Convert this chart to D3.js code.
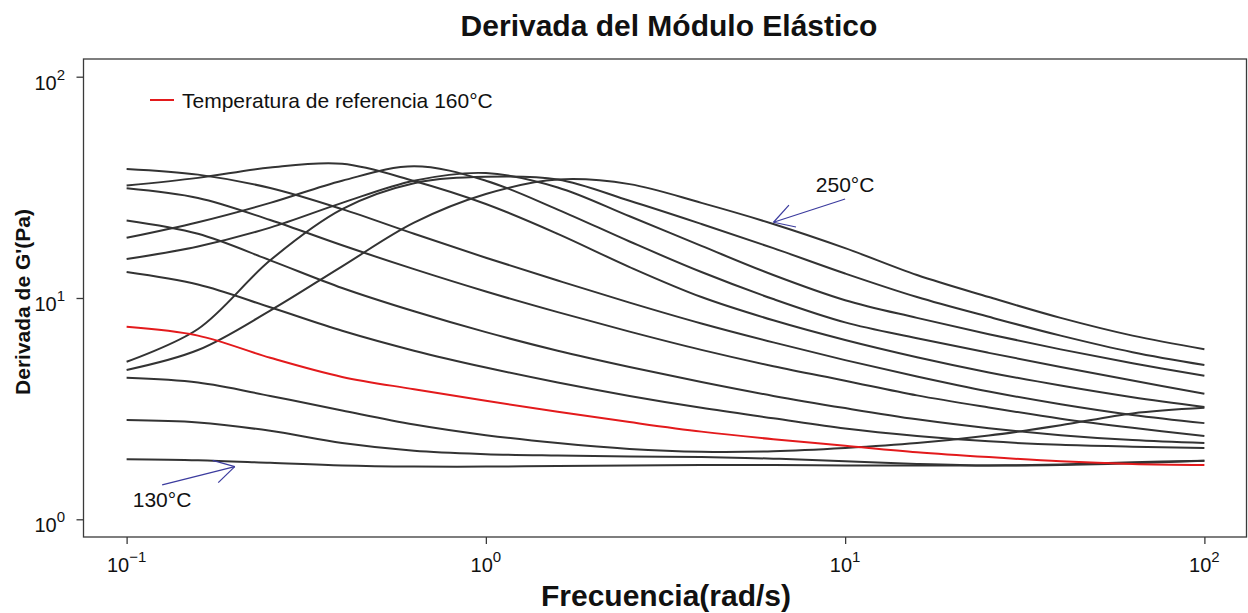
<!DOCTYPE html>
<html>
<head>
<meta charset="utf-8">
<script src="https://cdn.jsdelivr.net/npm/d3@7"></script>
<style>
  html, body { margin: 0; padding: 0; background: #ffffff; }
  svg { display: block; font-family: "Liberation Sans", Arial, sans-serif; }
</style>
</head>
<body>
<svg id="chart" width="1248" height="613"></svg>
<script>
// Frequency grid (rad/s), five points per decade, shared by every curve
const frequencies = [0.1, 0.158, 0.251, 0.398, 0.631, 1, 1.585, 2.512, 3.981, 6.31, 10, 15.85, 25.12, 39.81, 63.1, 100];

// Derivative of G' (Pa) for each test temperature
const temperatures = [130, 140, 150, 160, 170, 180, 190, 200, 210, 220, 230, 240, 250];
const d130 = [1.87, 1.85, 1.80, 1.75, 1.73, 1.73, 1.74, 1.75, 1.76, 1.76, 1.75, 1.75, 1.75, 1.77, 1.81, 1.84];
const d140 = [2.81, 2.74, 2.51, 2.21, 2.04, 1.97, 1.94, 1.92, 1.91, 1.88, 1.83, 1.78, 1.75, 1.76, 1.79, 1.84];
const d150 = [4.36, 4.15, 3.61, 3.10, 2.68, 2.40, 2.21, 2.08, 2.02, 2.03, 2.10, 2.21, 2.39, 2.66, 3.01, 3.19];
const d160 = [7.41, 6.76, 5.37, 4.40, 3.87, 3.43, 3.06, 2.75, 2.49, 2.30, 2.15, 2.01, 1.91, 1.83, 1.78, 1.76];
const d170 = [13.1, 11.5, 9.08, 7.11, 5.78, 4.85, 4.15, 3.61, 3.19, 2.86, 2.57, 2.38, 2.25, 2.17, 2.13, 2.10];
const d180 = [22.4, 19.5, 14.8, 11.1, 8.71, 7.01, 5.78, 4.88, 4.17, 3.61, 3.18, 2.83, 2.58, 2.40, 2.28, 2.21];
const d190 = [31.3, 28.3, 22.5, 17.3, 13.5, 10.7, 8.63, 7.05, 5.83, 4.92, 4.23, 3.63, 3.20, 2.85, 2.59, 2.38];
const d200 = [38.3, 36.1, 31.4, 25.2, 19.5, 15.2, 12.0, 9.53, 7.67, 6.30, 5.24, 4.42, 3.78, 3.31, 2.96, 2.72];
const d210 = [32.2, 34.9, 38.9, 40.4, 33.8, 26.6, 19.5, 13.8, 10.1, 7.93, 6.46, 5.40, 4.61, 4.02, 3.56, 3.22];
const d220 = [18.7, 22.0, 26.9, 33.9, 39.4, 33.9, 25.1, 18.0, 13.1, 9.89, 7.76, 6.58, 5.65, 4.88, 4.24, 3.69];
const d230 = [15.0, 17.1, 20.8, 26.9, 33.9, 36.7, 31.6, 23.4, 17.2, 12.7, 9.77, 8.13, 6.86, 5.86, 5.07, 4.45];
const d240 = [5.15, 7.24, 14.8, 25.2, 33.0, 35.3, 34.3, 27.5, 21.6, 16.8, 12.9, 10.1, 8.22, 6.76, 5.69, 4.98];
const d250 = [4.73, 5.82, 8.77, 13.9, 21.9, 29.5, 34.3, 32.7, 26.9, 21.6, 16.8, 12.7, 10.1, 8.13, 6.76, 5.87];
const seriesValues = [d130, d140, d150, d160, d170, d180, d190, d200, d210, d220, d230, d240, d250];

const referenceTemperature = 160;
const xTickValues = [0.1, 1, 10, 100];
const xTickExponents = ["\u22121", "0", "1", "2"];
const yTickValues = [1, 10, 100];
const yTickExponents = ["0", "1", "2"];

// annotation anchors in data units (frequency, value)
const highNote = { text: "250°C", tail: [10.0, 28.0], tip: [6.32, 22.0], label: [10.0, 32.5] };
const lowNote = { text: "130°C", tail: [0.1256, 1.43], tip: [0.2, 1.73], label: [0.1255, 1.23] };

const titleText = "Derivada del Módulo Elástico";
const xLabelText = "Frecuencia(rad/s)";
const yLabelText = "Derivada de G'(Pa)";
const legendText = "Temperatura de referencia 160°C";

// ---- layout ----
const plot = { left: 83.5, right: 1247.5, top: 59, bottom: 537 };
const svg = d3.select("#chart");

const x = d3.scaleLog()
  .domain([Math.pow(10, -1.12), Math.pow(10, 2.12)])
  .range([plot.left, plot.right]);
const y = d3.scaleLog()
  .domain([Math.pow(10, -0.08), Math.pow(10, 2.08)])
  .range([plot.bottom, plot.top]);

// ---- curves ----
const line = d3.line()
  .x(d => x(d[0]))
  .y(d => y(d[1]))
  .curve(d3.curveCatmullRom.alpha(0.5));

const curves = temperatures.map((t, i) => ({
  t,
  pts: frequencies.map((f, j) => [f, seriesValues[i][j]])
}));

const curveLayer = svg.append("g");
curveLayer.selectAll("path.curve")
  .data(curves.filter(c => c.t !== referenceTemperature))
  .join("path")
  .attr("class", "curve")
  .attr("d", c => line(c.pts))
  .attr("fill", "none")
  .attr("stroke", "#333333")
  .attr("stroke-width", 2);

curveLayer.selectAll("path.ref")
  .data(curves.filter(c => c.t === referenceTemperature))
  .join("path")
  .attr("class", "ref")
  .attr("d", c => line(c.pts))
  .attr("fill", "none")
  .attr("stroke", "#e31a1c")
  .attr("stroke-width", 2);

// ---- frame and axes ----
svg.append("rect")
  .attr("x", plot.left).attr("y", plot.top)
  .attr("width", plot.right - plot.left - 1).attr("height", plot.bottom - plot.top)
  .attr("fill", "none").attr("stroke", "#3a3a3a").attr("stroke-width", 1.3);

const xAxis = d3.axisBottom(x).tickValues(xTickValues).tickSize(7).tickFormat(() => "");
const gx = svg.append("g").attr("transform", `translate(0,${plot.bottom})`).call(xAxis);
gx.select(".domain").remove();
gx.selectAll(".tick line").attr("stroke", "#3a3a3a").attr("stroke-width", 1.3);

const yAxis = d3.axisLeft(y).tickValues(yTickValues).tickSize(7).tickFormat(() => "");
const gy = svg.append("g").attr("transform", `translate(${plot.left},0)`).call(yAxis);
gy.select(".domain").remove();
gy.selectAll(".tick line").attr("stroke", "#3a3a3a").attr("stroke-width", 1.3);

// power-of-ten tick labels
xTickValues.forEach((v, i) => {
  const t = svg.append("text")
    .attr("x", x(v)).attr("y", 572)
    .attr("text-anchor", "middle")
    .attr("font-size", 20).attr("fill", "#111");
  t.append("tspan").text("10");
  t.append("tspan").attr("dy", -10).attr("font-size", 15).text(xTickExponents[i]);
});
yTickValues.forEach((v, i) => {
  const t = svg.append("text")
    .attr("x", 65).attr("y", y(v) + 13)
    .attr("text-anchor", "end")
    .attr("font-size", 20).attr("fill", "#111");
  t.append("tspan").text("10");
  t.append("tspan").attr("dy", -10).attr("font-size", 15).text(yTickExponents[i]);
});

// ---- titles ----
svg.append("text")
  .attr("x", 669).attr("y", 36)
  .attr("text-anchor", "middle")
  .attr("font-size", 30).attr("font-weight", "bold").attr("fill", "#111")
  .text(titleText);

svg.append("text")
  .attr("x", 666).attr("y", 606)
  .attr("text-anchor", "middle")
  .attr("font-size", 30).attr("font-weight", "bold").attr("fill", "#111")
  .text(xLabelText);

svg.append("text")
  .attr("transform", "translate(30,302) rotate(-90)")
  .attr("text-anchor", "middle")
  .attr("font-size", 21).attr("font-weight", "bold").attr("fill", "#111")
  .text(yLabelText);

// ---- legend ----
svg.append("line")
  .attr("x1", 150).attr("x2", 174).attr("y1", 100).attr("y2", 100)
  .attr("stroke", "#e31a1c").attr("stroke-width", 2);
svg.append("text")
  .attr("x", 182).attr("y", 107.5)
  .attr("font-size", 21).attr("fill", "#111")
  .text(legendText);

// ---- temperature annotations with arrows ----
const arrowColor = "#3b3b9e";
function arrow(tail, tip) {
  const x0 = x(tail[0]), y0 = y(tail[1]), x1 = x(tip[0]), y1 = y(tip[1]);
  const ang = Math.atan2(y1 - y0, x1 - x0);
  const len = 23, spread = Math.PI / 6;
  const g = svg.append("g").attr("stroke", arrowColor).attr("stroke-width", 1.2).attr("fill", "none");
  g.append("line").attr("x1", x0).attr("y1", y0).attr("x2", x1).attr("y2", y1);
  [-spread, spread].forEach(s => {
    g.append("line")
      .attr("x1", x1).attr("y1", y1)
      .attr("x2", x1 - len * Math.cos(ang + s))
      .attr("y2", y1 - len * Math.sin(ang + s));
  });
}
[highNote, lowNote].forEach(n => {
  arrow(n.tail, n.tip);
  svg.append("text")
    .attr("x", x(n.label[0])).attr("y", y(n.label[1]) + 7.5)
    .attr("text-anchor", "middle").attr("font-size", 21).attr("fill", "#111")
    .text(n.text);
});
</script>
</body>
</html>
